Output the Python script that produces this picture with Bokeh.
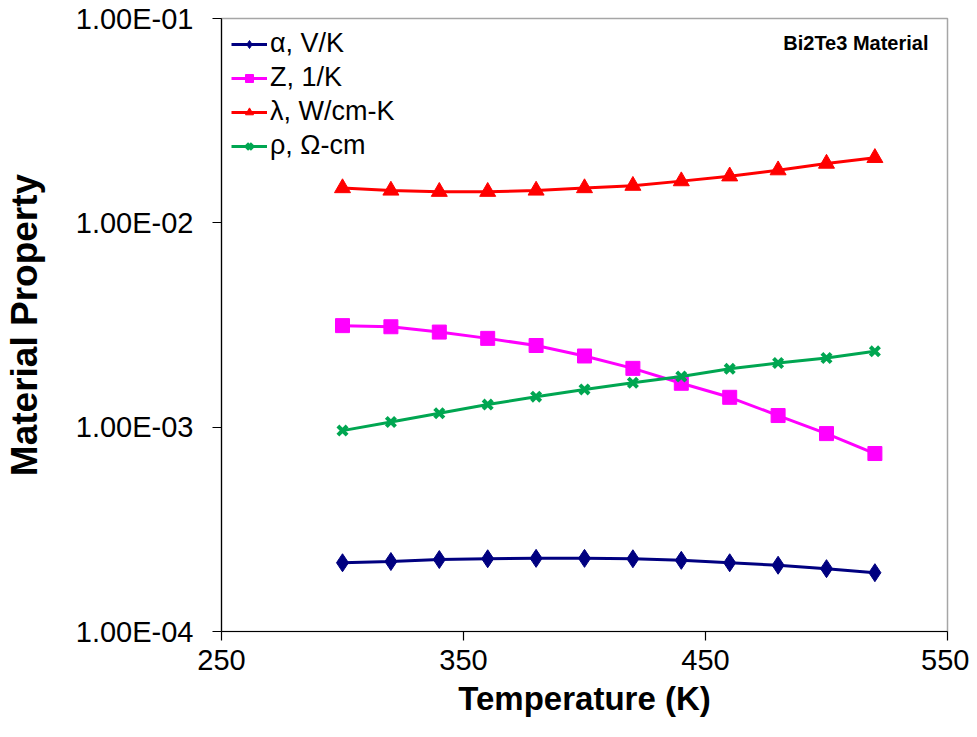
from bokeh.plotting import figure
from bokeh.models import FixedTicker, Legend, LegendItem, Label
from bokeh.embed import file_html
from bokeh.resources import INLINE

# ---- data ----
temperature = [300, 320, 340, 360, 380, 400, 420, 440, 460, 480, 500, 520]
alpha_vk = [0.000217, 0.000220, 0.000225, 0.000227, 0.000228, 0.000228,
            0.000227, 0.000223, 0.000217, 0.000211, 0.000203, 0.000194]
z_1k = [0.00314, 0.00310, 0.00292, 0.00272, 0.00251, 0.00223,
        0.00194, 0.00164, 0.00140, 0.00114, 0.00093, 0.000743]
lambda_wcmk = [0.0148, 0.0144, 0.0142, 0.0142, 0.0144, 0.0148,
               0.0152, 0.0160, 0.0169, 0.0181, 0.0195, 0.0208]
rho_ohmcm = [0.000962, 0.00106, 0.00117, 0.00129, 0.00141, 0.00153,
             0.00165, 0.00177, 0.00193, 0.00206, 0.00218, 0.00235]

series_names = ["\u03b1, V/K", "Z, 1/K", "\u03bb, W/cm-K", "\u03c1, \u03a9-cm"]
xticks = [250, 350, 450, 550]
yticks = [1e-4, 1e-3, 1e-2, 1e-1]
ytick_labels = ["1.00E-04", "1.00E-03", "1.00E-02", "1.00E-01"]

FONT = "Liberation Sans"

p = figure(frame_width=726, frame_height=613, y_axis_type="log",
           x_range=(250, 550), y_range=(1e-4, 1e-1),
           output_backend="svg", toolbar_location=None,
           min_border_left=0, min_border_top=18, min_border_right=22, min_border_bottom=0)

p.xgrid.visible = False
p.ygrid.visible = False
p.outline_line_color = "#A6A6A6"
p.outline_line_width = 1.5

# axes
for ax in (p.xaxis[0], p.yaxis[0]):
    ax.axis_line_color = "black"
    ax.axis_line_width = 1.2
    ax.major_tick_line_color = "black"
    ax.major_tick_line_width = 1.2
    ax.major_tick_in = 0
    ax.major_tick_out = 9
    ax.minor_tick_line_color = None
    ax.major_label_text_font = FONT
    ax.major_label_text_font_size = "29px"
    ax.major_label_text_color = "black"
    ax.axis_label_text_font = FONT
    ax.axis_label_text_font_style = "bold"
    ax.axis_label_text_color = "black"

p.xaxis.axis_label_text_font_size = "33px"
p.yaxis.axis_label_text_font_size = "37px"
p.xaxis.ticker = FixedTicker(ticks=xticks)
p.yaxis.ticker = FixedTicker(ticks=yticks)
p.yaxis.major_label_overrides = {t: l for t, l in zip(yticks, ytick_labels)}
p.xaxis.axis_label = "Temperature (K)"
p.yaxis.axis_label = "Material Property"
p.yaxis.major_label_standoff = 19
p.xaxis.major_label_standoff = 9
p.yaxis.axis_label_standoff = 28
p.xaxis.axis_label_standoff = 7

LW = 3
items = []
r1l = p.line(temperature, alpha_vk, line_color="#000080", line_width=LW)
r1m = p.scatter(temperature, alpha_vk, marker="diamond", size=18, color="#000080")
items.append(LegendItem(label=series_names[0], renderers=[r1l, r1m]))

r2l = p.line(temperature, z_1k, line_color="#FF00FF", line_width=LW)
r2m = p.scatter(temperature, z_1k, marker="square", size=14, color="#FF00FF")
items.append(LegendItem(label=series_names[1], renderers=[r2l, r2m]))

r3l = p.line(temperature, lambda_wcmk, line_color="#FF0000", line_width=LW)
r3m = p.scatter(temperature, lambda_wcmk, marker="triangle", size=16, color="#FF0000")
items.append(LegendItem(label=series_names[2], renderers=[r3l, r3m]))

r4l = p.line(temperature, rho_ohmcm, line_color="#00A651", line_width=LW)
r4m = p.scatter(temperature, rho_ohmcm, marker="x", size=13, line_color="#00A651", line_width=4)
items.append(LegendItem(label=series_names[3], renderers=[r4l, r4m]))

legend = Legend(items=items, location="top_left", margin=10, padding=8,
                spacing=3, glyph_width=36, glyph_height=20, label_standoff=3,
                label_text_font=FONT, label_text_font_size="27px",
                label_text_color="black", label_height=22,
                border_line_color=None, background_fill_alpha=0)
p.add_layout(legend, "center")

p.add_layout(Label(x=707, y=589, x_units="screen", y_units="screen",
                   text="Bi2Te3 Material", text_align="right", text_baseline="middle",
                   text_font=FONT, text_font_size="20px", text_font_style="bold",
                   text_color="black"))

open("out.html", "w").write(file_html(p, INLINE))
